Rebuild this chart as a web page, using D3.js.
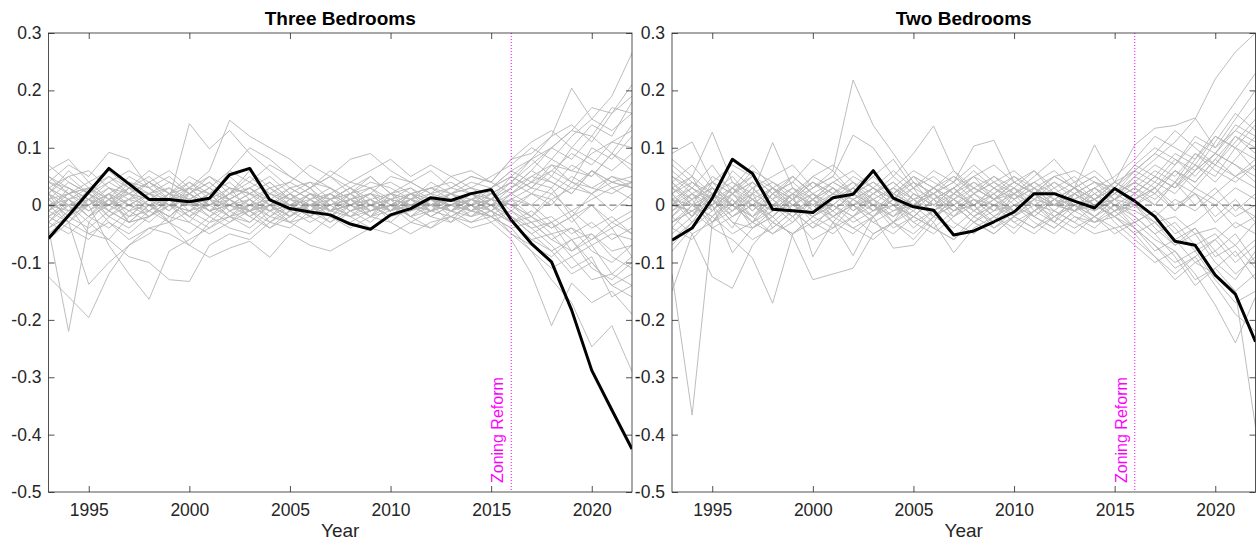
<!DOCTYPE html>
<html>
<head>
<meta charset="utf-8">
<script src="https://d3js.org/d3.v7.min.js"></script>
<style>
body { margin: 0; background: #fff; }
svg { display: block; font-family: "Liberation Sans", Arial, Helvetica, sans-serif; }
</style>
</head>
<body>
<svg id="chart" width="1257" height="551"></svg>
<script>
// years on the x axis
var years = [1993,1994,1995,1996,1997,1998,1999,2000,2001,2002,2003,2004,2005,2006,2007,
             2008,2009,2010,2011,2012,2013,2014,2015,2016,2017,2018,2019,2020,2021,2022];
var reformYear = 2016;
var reformLabel = "Zoning Reform";
var xTicks = [1995, 2000, 2005, 2010, 2015, 2020];
var yTicks = [-0.5, -0.4, -0.3, -0.2, -0.1, 0, 0.1, 0.2, 0.3];
var titles = ["Three Bedrooms", "Two Bedrooms"];
var xLabel = "Year";

// treated unit (black line)
var treated3 = [-0.058,-0.018,0.023,0.064,0.037, 0.010,0.010,0.006,0.012,0.053, 0.064,0.009,-0.006,-0.012,-0.017,
                -0.033,-0.042,-0.017,-0.006,0.013, 0.008,0.020,0.027,-0.026,-0.067, -0.099,-0.183,-0.288,-0.357,-0.425];
var treated2 = [-0.061,-0.040,0.012,0.080,0.055, -0.007,-0.010,-0.013,0.013,0.019, 0.060,0.012,-0.003,-0.009,-0.052,
                -0.045,-0.029,-0.012,0.020,0.020, 0.007,-0.005,0.029,0.007,-0.020, -0.063,-0.070,-0.122,-0.155,-0.238];

// placebo units (grey lines), three bedrooms
var placebos3 = [
  [-0.125,-0.16,-0.196,-0.12,-0.07, -0.05,-0.02,-0.03,0.01,-0.02, 0,-0.01,0.01,0,-0.02, 0.01,0,-0.01,0.01,0, -0.01,0.01,0,-0.03,-0.06, -0.08,-0.12,-0.10,-0.14,-0.16],
  [-0.04,-0.22,-0.03,-0.06,-0.02, 0.01,-0.03,0.02,-0.01,0, 0.02,-0.01,0,0.01,-0.02, 0,0.01,-0.01,0.02,0, -0.01,0.01,0,0.02,0.04, 0.03,0.07,0.05,0.09,0.06],
  [0.02,-0.03,-0.138,-0.10,-0.07, -0.04,-0.05,-0.07,-0.03,-0.02, -0.04,-0.01,-0.03,-0.02,0, -0.02,-0.01,0,-0.02,-0.01, 0,-0.01,0.01,-0.02,-0.05, -0.03,-0.08,-0.06,-0.04,-0.09],
  [0.01,-0.02,0,-0.07,-0.12, -0.164,-0.08,-0.06,-0.04,-0.02, -0.03,0,-0.02,0.01,-0.01, 0,0.02,-0.01,0,0.01, -0.02,0,0.01,0.03,0.06, 0.10,0.13,0.12,0.17,0.16],
  [-0.03,0,-0.05,-0.06,-0.09, -0.10,-0.13,-0.133,-0.07,-0.05, -0.06,-0.03,-0.04,-0.01,-0.03, 0,-0.02,0.01,0,-0.01, 0.01,0,-0.02,-0.04,-0.08, -0.13,-0.17,-0.247,-0.21,-0.29],
  [0.03,0.01,0.02,0,0.03, 0.02,0.01,0.142,0.098,0.13, 0.09,0.06,0.03,0.04,0.01, 0.02,-0.01,0,0.02,0.01, 0,0.02,0.01,0.05,0.03, 0.07,0.04,0.10,0.08,0.12],
  [-0.01,0.02,0,0.03,0.01, 0,0.02,0.03,0.06,0.148, 0.12,0.10,0.08,0.05,0.03, 0,0.02,-0.01,0.01,0, 0.02,-0.01,0.01,0.04,0.08, 0.12,0.204,0.15,0.19,0.265],
  [0.04,0.07,0.05,0.092,0.08, 0.03,0.05,0.02,0.04,0.01, 0.03,0,0.02,-0.01,0.01, 0.03,0,0.02,0.01,-0.01, 0.02,0,0.03,0.06,0.08, 0.10,0.13,0.17,0.16,0.21],
  [0.06,0.08,0.04,0.06,0.03, 0.05,0.02,0.04,0.01,0.06, 0.10,0.08,0.05,0.03,0.05, 0.08,0.09,0.06,0.04,0.02, 0.03,0.05,0.04,0.08,0.11, 0.13,0.10,0.14,0.12,0.18],
  [0,-0.03,-0.05,-0.03,-0.06, -0.04,-0.03,-0.07,-0.091,-0.075, -0.063,-0.091,-0.05,-0.07,-0.08, -0.06,-0.04,-0.05,-0.03,-0.04, -0.02,-0.03,-0.01,-0.05,-0.07, -0.09,-0.06,-0.11,-0.13,-0.10],
  [0.04,0.02,0.03,0.01,0.02, 0,0.01,0.02,-0.01,0, 0.02,0.01,-0.01,0.02,0, 0.01,-0.01,0.01,0,0.02, 0.01,0,0.02,0.04,0.02, 0.05,0.03,0.06,0.04,0.05],
  [-0.02,0.01,-0.01,0.02,0, -0.02,0.01,0,0.02,-0.01, 0,0.01,-0.02,0,0.01, -0.01,0,0.02,-0.01,0, 0.01,-0.01,0,-0.02,-0.04, -0.03,-0.06,-0.05,-0.08,-0.07],
  [0.02,0.05,0.06,0.03,0.02, 0.04,0.01,0.03,0,0.02, 0.05,0.02,0.01,0.03,-0.01, 0.02,0,0.01,0.03,0.01, 0,0.02,0.01,0.03,0.05, 0.04,0.02,0.06,0.03,0.04],
  [-0.05,-0.02,-0.04,-0.01,-0.03, 0,-0.02,0.01,-0.01,-0.03, 0,-0.02,0.01,-0.01,0, -0.02,0.01,-0.01,0,-0.02, 0,-0.01,-0.02,-0.05,-0.08, -0.11,-0.09,-0.13,-0.12,-0.14],
  [0.03,0,0.02,-0.01,0.03, 0.01,0.03,0,0.02,0.04, 0.01,0.03,0,0.02,0.01, 0.03,0.01,0.02,0,0.01, 0.03,0.02,0,0.01,-0.02, 0.01,-0.03,0,-0.04,-0.02],
  [-0.01,0.03,0.01,-0.02,0.01, 0.02,0,-0.02,0.01,0.03, -0.01,0,0.02,0,-0.02, 0.01,0.02,0,-0.01,0.01, 0,0.02,-0.01,0.02,0.05, 0.07,0.06,0.09,0.11,0.10],
  [0.05,0.03,0.01,0.04,0.02, 0.01,-0.01,0.02,0,0.01, -0.02,0.01,0.03,0.01,0.02, 0,0.01,-0.01,0.02,0, -0.01,0.01,0.02,-0.01,-0.03, -0.02,-0.05,-0.03,-0.06,-0.04],
  [-0.03,-0.05,-0.02,0.01,-0.01, -0.03,0,-0.01,-0.03,0, -0.02,-0.04,-0.01,-0.03,-0.01, -0.02,-0.04,-0.02,0,-0.02, -0.03,-0.01,-0.02,-0.04,-0.03, -0.06,-0.08,-0.05,-0.09,-0.11],
  [0.01,0.04,0.02,0.05,0.03, 0.06,0.04,0.02,0.05,0.03, 0.02,0.04,0.01,0.03,0.05, 0.02,0.04,0.03,0.01,0.04, 0.02,0.03,0.05,0.07,0.10, 0.08,0.12,0.15,0.13,0.16],
  [0,-0.01,0.01,0,-0.02, 0.01,0,-0.01,0.01,0, -0.01,0.01,0,-0.01,0.02, 0,-0.01,0.01,0,0.01, -0.01,0,0.01,0,0.02, 0.01,0.03,0.02,0.04,0.03],
  [0.02,-0.01,0,0.02,-0.02, -0.01,0.02,0.01,-0.02,0, 0.01,-0.02,0,0.02,0.01, -0.02,0,0.01,-0.02,0.01, 0.02,0,-0.01,-0.03,-0.01, -0.04,-0.02,-0.07,-0.05,-0.06],
  [-0.02,0,-0.03,0.01,0.03, 0,-0.02,0.01,0.03,0.01, -0.01,0.02,0,-0.02,0.01, 0.02,-0.01,0,0.02,-0.01, 0,0.01,-0.01,0.01,0.03, 0.02,0.05,0.03,0.02,0.04],
  [0.03,0.01,-0.02,0,0.02, -0.01,0.01,-0.02,0,0.02, 0.03,0,-0.02,0.01,0.03, 0.01,0.02,-0.01,0.01,0.02, -0.01,0.02,0,-0.02,-0.05, -0.08,-0.06,-0.10,-0.14,-0.12],
  [-0.04,-0.01,0.02,-0.02,0, 0.02,-0.01,0.03,0,-0.02, 0.01,-0.01,0.02,0,-0.01, 0,0.02,0.01,-0.02,0, 0.01,-0.02,0.01,0,-0.02, 0.02,-0.01,0.01,0.03,0.01],
  [0.01,0.02,0.04,0.01,-0.01, 0.02,0.03,0.01,-0.01,0.02, 0,0.03,0.01,0,0.02, 0.04,0.03,0.01,0.02,0.03, 0.02,0.04,0.03,0.06,0.04, 0.08,0.06,0.05,0.09,0.07],
  [0.02,0,0.01,-0.03,-0.05, -0.02,0,-0.03,-0.05,-0.03, -0.01,-0.04,-0.02,0,-0.03, -0.01,0,-0.02,-0.01,0.01, -0.01,-0.02,0,-0.03,-0.06, -0.05,-0.09,-0.07,-0.12,-0.09],
  [-0.01,0.01,-0.02,0.02,0.04, 0.03,0.01,0.04,0.02,0.01, 0.03,0.05,0.02,0.04,0.03, 0.01,0.03,0.04,0.02,0.03, 0.04,0.02,0.03,0.05,0.03, 0.06,0.04,0.03,0.05,0.04],
  [0.04,0.03,0,0.02,0, -0.01,0.02,0,0.01,-0.02, -0.01,0,0.02,-0.02,0, 0.01,-0.02,0,0.01,-0.01, 0,-0.02,-0.01,-0.03,-0.02, -0.05,-0.04,-0.06,-0.03,-0.05],
  [-0.06,-0.03,0.01,0.03,0, 0.02,0.04,0.02,0,0.03, 0.02,0,0.03,0.01,-0.01, 0.02,0.03,0,0.02,0, 0.02,0.01,0.03,0.05,0.08, 0.05,0.10,0.08,0.06,0.09],
  [0,0.02,-0.01,0.01,-0.03, -0.02,0,0.02,0.04,0.01, -0.02,0,-0.03,0,0.02, -0.01,0.01,-0.03,0,-0.01, 0.01,0,-0.02,0.01,0, 0.03,-0.02,0.02,-0.01,0.02],
  [0.05,0.02,0.03,0.05,0.02, 0.04,0.06,0.03,0.05,0.02, 0.06,0.03,0.04,0.07,0.05, 0.03,0.05,0.02,0.04,0.06, 0.03,0.05,0.04,0.02,0, -0.03,-0.01,-0.04,-0.02,-0.05],
  [-0.02,-0.04,-0.06,-0.02,-0.04, -0.01,-0.03,-0.05,-0.02,-0.04, -0.05,-0.02,-0.03,-0.05,-0.02, -0.04,-0.02,-0.03,-0.05,-0.03, -0.02,-0.04,-0.03,-0.06,-0.12, -0.21,-0.136,-0.17,-0.15,-0.19],
  [0.01,-0.02,0.03,0,0.01, -0.02,0.01,0,-0.02,0.01, 0.03,0.01,-0.01,0,0.02, 0,-0.02,0.02,0.01,-0.02, 0,0.01,-0.01,0.02,0.04, 0.06,0.09,0.07,0.11,0.13],
  [0.07,0.04,0.02,0,0.04, 0.02,0,0.03,0.02,0.05, 0.02,0.04,0.01,0.03,0, 0.02,0.05,0.02,0.03,0, 0.02,0.03,0.01,0,-0.03, -0.06,-0.04,-0.08,-0.10,-0.07],
  [-0.03,0.01,-0.02,-0.04,-0.01, 0,-0.03,-0.01,0.02,-0.01, -0.03,0,-0.02,0.01,-0.02, -0.03,-0.01,0,-0.03,-0.01, -0.02,0,-0.03,-0.01,0.02, 0,0.04,0.02,0.05,0.03],
  [0.02,0.06,0.03,0.01,0.05, 0.03,0,0.01,0.03,0, -0.01,0.02,0.04,0.02,-0.01, 0,0.02,0.05,0.04,0.02, 0.05,0.03,0.02,0.04,0.07, 0.10,0.08,0.12,0.09,0.14],
  [0,0.01,0.03,-0.01,0.01, 0.04,0.02,-0.01,0,0.02, 0.04,0.02,0,-0.02,0.01, 0.03,0,-0.02,0.01,0.03, 0.01,-0.01,0.02,0,-0.02, -0.04,-0.02,0,-0.03,-0.01],
  [-0.01,-0.03,0,0.02,-0.03, -0.02,0.01,-0.02,-0.04,-0.01, 0.01,-0.03,-0.01,0.02,-0.01, 0.01,-0.02,-0.01,0.02,0, -0.03,0.01,0,0.03,0.06, 0.04,0.02,0.06,0.04,0.03],
  [0.03,0.05,0.02,0.04,0.06, 0.04,0.02,0.05,0.03,0.06, 0.04,0.07,0.05,0.03,0.06, 0.04,0.06,0.08,0.05,0.07, 0.05,0.06,0.04,0.08,0.09, 0.12,0.14,0.11,0.16,0.19],
  [-0.04,-0.02,0.01,-0.01,-0.03, 0,-0.02,0.01,-0.01,0.01, -0.01,-0.03,0,-0.02,-0.04, -0.01,-0.03,0,-0.02,-0.04, -0.01,-0.03,-0.02,-0.01,-0.04, -0.07,-0.11,-0.09,-0.16,-0.14]
];

// placebo units (grey lines), two bedrooms
var placebos2 = [
  [-0.12,-0.366,-0.03,0.02,-0.01, 0.03,0,-0.02,0.01,0.03, 0,-0.02,0.01,0.02,-0.01, 0,0.02,-0.01,0.01,0.03, 0,-0.02,0.01,0.03,0.06, 0.04,0.09,0.07,0.12,0.10],
  [-0.15,-0.05,-0.125,-0.145,-0.07, -0.03,-0.05,-0.02,-0.04,0, -0.03,-0.01,0.01,-0.02,0, -0.03,-0.01,0,-0.02,0.01, -0.01,0,-0.02,-0.04,-0.07, -0.10,-0.08,-0.13,-0.17,-0.15],
  [-0.03,-0.01,-0.04,-0.06,-0.092, -0.171,-0.05,-0.03,-0.01,-0.04, -0.02,0,-0.03,-0.01,0.01, -0.02,0,-0.03,-0.01,0.02, 0,-0.01,0.01,0.04,0.02, 0.06,0.04,0.08,0.12,0.09],
  [0.02,-0.02,0.01,-0.03,-0.04, -0.02,-0.055,-0.13,-0.12,-0.11, -0.05,-0.03,-0.06,-0.02,-0.04, -0.01,-0.03,0,-0.02,-0.04, -0.01,-0.03,-0.02,-0.05,-0.09, -0.13,-0.10,-0.12,-0.15,-0.387],
  [0.05,0.03,0,-0.083,-0.04, -0.01,0.02,-0.09,-0.03,-0.088, -0.02,-0.075,-0.07,-0.03,-0.083, -0.04,-0.02,-0.05,-0.01,-0.03, 0,-0.02,-0.04,-0.03,-0.06, -0.08,-0.12,-0.174,-0.24,-0.16],
  [0.09,0.11,0.04,0.02,0.05, 0.03,0.01,0.04,0.02,0.05, 0.03,0.01,0.04,0.02,0, 0.03,0.01,0.04,0.02,0, 0.02,0.04,0.01,0.05,0.08, 0.11,0.15,0.22,0.267,0.30],
  [0.03,0.05,0.127,0.04,0.02, 0.109,0.03,0.01,0.04,0.02, 0.05,0.02,0,0.03,0.01, 0.04,0.02,0.05,0.03,0.01, 0.03,0,0.02,0.04,0.02, 0.06,0.04,0.08,0.05,0.07],
  [0,0.02,-0.01,0.03,0.05, 0.02,0.04,0.08,0.06,0.218, 0.139,0.09,0.04,0.02,0.05, 0.03,0.01,0.04,0.02,0, 0.03,0.01,0.04,0.02,0.05, 0.03,0.07,0.05,0.10,0.08],
  [0.04,0.01,0.03,0,0.02, 0.04,0.01,0.03,0.05,0.122, 0.10,0.05,0.09,0.138,0.06, 0.03,0.05,0.02,0.04,0.01, 0.03,0.05,0.02,0.06,0.09, 0.07,0.12,0.10,0.15,0.20],
  [-0.02,0.01,0.03,0,-0.02, 0.01,0.03,0,0.02,-0.01, 0.01,0.03,0,0.02,0.04, 0.103,0.113,0.04,0.02,0.05, 0.03,0.105,0.04,0.105,0.134, 0.139,0.152,0.10,0.13,0.11],
  [0.01,-0.03,0.02,0.05,0.01, -0.02,0.02,0,-0.03,0.01, 0.03,0,-0.02,0.01,0.03, 0,-0.03,0.02,0,-0.02, 0.01,0.03,0,-0.02,-0.05, -0.03,-0.07,-0.05,-0.09,-0.06],
  [-0.05,-0.02,0.03,0.01,-0.03, 0,0.03,-0.01,0.02,0.04, 0,-0.03,0.02,0,-0.02, 0.02,-0.01,0.03,0,-0.03, 0.02,0,-0.02,0.01,0.04, 0.02,0.06,0.09,0.07,0.05],
  [0.06,0.03,0.07,0.02,0.04, 0.01,0.05,0.02,0,0.03, 0.06,0.02,0.04,0,0.03, 0.05,0.01,0.03,0.06,0.02, 0.04,0.01,0.03,0,-0.03, -0.06,-0.04,-0.09,-0.07,-0.11],
  [-0.01,0.02,-0.03,-0.01,0.02, -0.04,-0.01,0.01,-0.03,-0.05, -0.02,0.01,-0.03,-0.05,-0.02, 0,-0.04,-0.02,0.01,-0.03, -0.05,-0.02,0,-0.03,-0.01, -0.04,-0.08,-0.06,-0.03,-0.05],
  [0.02,0.04,0.01,-0.02,0, 0.03,0.01,0.05,0.03,0, 0.02,0.04,0.01,0.03,0.05, 0.02,0.04,0.01,0.03,0, 0.02,0.04,0.03,0.06,0.04, 0.08,0.06,0.11,0.16,0.13],
  [-0.04,-0.06,-0.02,-0.05,-0.03, -0.05,-0.02,-0.06,-0.04,-0.02, -0.05,-0.03,-0.01,-0.04,-0.06, -0.03,-0.05,-0.02,-0.04,-0.01, -0.03,-0.05,-0.04,-0.07,-0.10, -0.08,-0.13,-0.11,-0.15,-0.12],
  [0.03,0,0.05,0.03,0.01, -0.01,0.02,0.04,0.01,0.03, -0.01,0.02,0.05,0.03,0, 0.02,0.05,0.03,0.01,0.04, 0.02,0,0.03,0.01,0.03, 0,0.02,-0.02,0.01,-0.03],
  [-0.08,-0.04,-0.01,0.02,-0.02, 0,-0.03,0.01,-0.01,0.02, -0.01,0,0.03,-0.02,0.01, -0.01,0.02,-0.02,0,0.02, -0.01,0.01,-0.01,0.02,0.05, 0.03,0.08,0.12,0.10,0.14],
  [0.01,0.03,0,0.06,0.03, 0.05,0.07,0.03,0.05,0.02, 0.04,0.01,0.03,0.05,0.02, 0.05,0.03,0.01,0.04,0.06, 0.03,0.05,0.02,0.04,0.07, 0.05,0.09,0.06,0.04,0.07],
  [0,-0.01,0.02,-0.02,0.01, -0.01,0,0.02,-0.02,0, 0.01,-0.01,0,0.02,-0.01, 0.01,0,-0.02,0.01,0, -0.01,0.02,0,-0.01,-0.03, -0.02,-0.05,-0.04,-0.07,-0.03],
  [0.04,0.07,0.03,0,0.03, -0.01,0.01,-0.02,0,0.03, 0.01,-0.02,0,0.03,0.01, -0.02,0.01,0.03,-0.01,0.01, 0.03,-0.01,0.01,0.03,0, 0.04,0.02,0,0.03,0.01],
  [-0.03,0,-0.02,0.01,-0.04, -0.02,0.01,-0.03,-0.05,-0.02, 0,-0.04,-0.02,0.01,-0.03, -0.05,-0.02,0,-0.03,-0.05, -0.02,-0.04,-0.01,-0.04,-0.07, -0.11,-0.09,-0.14,-0.19,-0.22],
  [0.02,-0.02,0.04,0.02,0, 0.03,-0.01,0.01,0.03,0, -0.02,0.02,0,-0.03,0.02, 0,0.03,0.01,-0.02,0.01, 0,0.02,-0.01,0.01,0.03, 0.06,0.03,0.07,0.05,0.08],
  [-0.06,-0.03,0,-0.04,0.02, 0,-0.02,0.01,0.03,-0.01, 0.02,0,-0.02,0.01,-0.01, 0.02,0,-0.01,0.02,-0.02, 0,0.01,-0.02,0,-0.02, 0.01,-0.01,0.02,0.05,0.03],
  [0.07,0.04,0.01,0.03,-0.01, 0.02,0,-0.02,0.01,0.04, 0.02,0.05,0.02,0,0.02, 0.04,0.01,0.02,0.04,0.02, 0.01,0.03,0.05,0.08,0.12, 0.10,0.08,0.13,0.18,0.23],
  [-0.02,-0.05,-0.03,0,-0.02, -0.05,-0.03,0,-0.02,-0.04, -0.06,-0.03,-0.05,-0.02,0, -0.03,-0.05,-0.02,-0.04,-0.02, -0.04,-0.02,-0.05,-0.03,-0.01, -0.05,-0.03,0,-0.04,-0.02],
  [0.01,0,-0.02,0.02,0.04, 0.01,-0.02,0.02,0,-0.02, 0.02,0.04,0.01,-0.01,0.02, 0,0.02,0.04,0.02,0, 0.02,-0.01,0.02,0.05,0.03, 0.07,0.11,0.09,0.13,0.17],
  [0.03,0.01,0.04,0.07,0.05, 0.02,0.05,0.02,0.04,0.06, 0.03,0.01,0.05,0.03,0.06, 0.02,0.04,0.06,0.03,0.05, 0.06,0.04,0.02,0,0.03, -0.01,0.02,-0.03,0,-0.02],
  [-0.01,0.01,-0.04,-0.02,0, -0.03,-0.05,-0.02,0,-0.03, -0.01,0.01,-0.02,-0.04,-0.01, 0.01,-0.02,-0.04,-0.01,0.01, -0.02,-0.03,0,-0.04,-0.08, -0.06,-0.10,-0.08,-0.12,-0.09],
  [0.05,0.02,0,0.02,0.06, 0.04,0.02,0.05,0.07,0.04, 0.01,0.03,0.06,0.04,0.02, 0.05,0.07,0.04,0.06,0.03, 0.05,0.02,0.04,0.02,0.05, 0.09,0.07,0.12,0.10,0.06],
  [0,0.03,0.01,-0.01,0.03, 0,0.02,-0.01,0.02,0.01, -0.01,0.02,0,0.02,-0.02, 0.01,-0.01,0.02,0,-0.01, 0.02,0,0.01,0,-0.04, -0.07,-0.05,-0.10,-0.13,-0.08],
  [-0.04,0,0.02,-0.01,0.01, -0.03,0,0.02,-0.01,0.02, 0,-0.02,0.02,0,0.03, -0.01,0.01,-0.02,0.03,0, -0.01,0.03,0.01,0.03,0.01, 0.04,0,0.03,-0.01,0.02],
  [0.08,0.05,0.02,0,-0.03, -0.01,0.02,0,0.03,0.01, -0.02,0.01,-0.01,0.02,0.04, 0.01,-0.02,0.01,0.03,0, 0.03,0.01,0.04,0.06,0.09, 0.13,0.10,0.07,0.11,0.15],
  [-0.02,0.02,0.04,0,-0.03, 0.02,0.04,0.01,-0.02,0.01, 0.03,0,-0.04,-0.01,0.01, -0.02,-0.04,-0.01,0.02,-0.01, -0.03,0,-0.02,-0.05,-0.03, -0.07,-0.04,-0.08,-0.05,-0.10],
  [0.02,0.05,-0.01,0.03,0.07, 0.03,0,0.03,0.06,0.02, 0.05,0.08,0.03,0.06,0.04, 0.07,0.04,0.02,0.05,0.08, 0.04,0.06,0.03,0.07,0.05, 0.03,0.06,0.09,0.14,0.12],
  [-0.03,-0.01,0.01,-0.03,-0.06, -0.04,-0.01,-0.04,-0.02,0, -0.03,-0.05,-0.02,-0.04,-0.06, -0.02,0,-0.03,-0.05,-0.02, 0,-0.03,-0.01,0,0.02, -0.01,0.03,0.01,-0.02,0],
  [0.01,-0.02,0.02,0.04,0.01, 0.03,0.05,0.02,-0.01,0.02, 0.04,0.02,0.05,0.01,0.03, 0,0.03,0.05,0.02,0.04, 0.01,0.03,0,0.02,0, 0.04,0.07,0.04,0.08,0.12],
  [0.04,0,-0.03,0.01,-0.02, 0.02,-0.01,-0.04,0,-0.02, 0.01,-0.03,0,0.03,0, -0.03,0,0.02,-0.02,-0.04, -0.01,0.01,-0.03,-0.06,-0.09, -0.12,-0.09,-0.06,-0.10,-0.07],
  [-0.07,-0.03,0,0.03,0, -0.02,0.01,0.04,0.02,0, 0.03,0.06,0.03,0.01,0.03, 0.06,0.03,0,0.02,0.05, 0.03,0.01,0.03,0.07,0.10, 0.08,0.05,0.09,0.07,0.04],
  [0,0.04,0.02,0,0.04, 0.01,-0.02,0.01,0.04,0.02, 0,0.03,0.01,-0.02,0.01, 0.03,0.01,-0.01,0.02,0, 0.01,-0.02,0.01,-0.02,-0.05, -0.09,-0.14,-0.11,-0.08,-0.13]
];

var svg = d3.select("#chart");
var plotTop = 33, plotBottom = 492;

// two panels, each with its own x range in pixels
var panels = [
  { title: titles[0], treated: treated3, placebos: placebos3, left: 48.5, right: 632 },
  { title: titles[1], treated: treated2, placebos: placebos2, left: 672, right: 1255.5 }
];

function fmtY(d) {
  return Math.abs(d) < 1e-9 ? "0" : d.toFixed(1);
}

function styleAxis(g) {
  g.select(".domain").remove();
  g.selectAll(".tick line").attr("stroke", "#262626").attr("stroke-width", 0.8);
  g.selectAll(".tick text").attr("fill", "#262626").style("font-size", "17.5px");
}

function drawPanel(p, i) {
  var x = d3.scaleLinear().domain([years[0], years[years.length - 1]]).range([p.left, p.right]);
  var y = d3.scaleLinear().domain([-0.5, 0.3]).range([plotBottom, plotTop]);
  var g = svg.append("g");

  g.append("clipPath").attr("id", "clip" + i)
    .append("rect")
    .attr("x", p.left).attr("y", plotTop)
    .attr("width", p.right - p.left).attr("height", plotBottom - plotTop);

  var line = d3.line()
    .x(function(d, k) { return x(years[k]); })
    .y(function(d) { return y(d); });

  var plot = g.append("g").attr("clip-path", "url(#clip" + i + ")");

  plot.selectAll("path.placebo")
    .data(p.placebos)
    .enter()
    .append("path")
    .attr("class", "placebo")
    .attr("d", line)
    .attr("fill", "none")
    .attr("stroke", "#b5b5b5")
    .attr("stroke-width", 0.9);

  // zero reference line
  plot.append("line")
    .attr("x1", x(years[0])).attr("x2", x(years[years.length - 1]))
    .attr("y1", y(0)).attr("y2", y(0))
    .attr("stroke", "#7f7f7f").attr("stroke-width", 1.3)
    .attr("stroke-dasharray", "7,4");

  plot.append("path")
    .datum(p.treated)
    .attr("d", line)
    .attr("fill", "none")
    .attr("stroke", "#000")
    .attr("stroke-width", 3)
    .attr("stroke-linejoin", "round");

  // reform marker
  plot.append("line")
    .attr("x1", x(reformYear)).attr("x2", x(reformYear))
    .attr("y1", plotTop).attr("y2", plotBottom)
    .attr("stroke", "#ff00ff").attr("stroke-width", 1)
    .attr("stroke-dasharray", "1,2");

  g.append("text")
    .attr("transform", "translate(" + (x(reformYear) - 8) + "," + (plotBottom - 9) + ") rotate(-90)")
    .attr("fill", "#ff00ff")
    .style("font-size", "16px")
    .text(reformLabel);

  // axes, ticks pointing inward on all four sides
  g.append("g").attr("transform", "translate(" + p.left + ",0)")
    .call(d3.axisLeft(y).tickValues(yTicks).tickFormat(fmtY).tickSize(-6).tickPadding(7))
    .call(styleAxis);
  g.append("g").attr("transform", "translate(" + p.right + ",0)")
    .call(d3.axisRight(y).tickValues(yTicks).tickFormat("").tickSize(-6))
    .call(styleAxis);
  g.append("g").attr("transform", "translate(0," + plotBottom + ")")
    .call(d3.axisBottom(x).tickValues(xTicks).tickFormat(d3.format("d")).tickSize(-6).tickPadding(12))
    .call(styleAxis);
  g.append("g").attr("transform", "translate(0," + plotTop + ")")
    .call(d3.axisTop(x).tickValues(xTicks).tickFormat("").tickSize(-6))
    .call(styleAxis);

  g.append("rect")
    .attr("x", p.left).attr("y", plotTop)
    .attr("width", p.right - p.left).attr("height", plotBottom - plotTop)
    .attr("fill", "none")
    .attr("stroke", "#262626")
    .attr("stroke-width", 0.8);

  g.append("text")
    .attr("x", (p.left + p.right) / 2).attr("y", 25)
    .attr("text-anchor", "middle")
    .style("font-size", "19px").style("font-weight", "bold")
    .text(p.title);

  g.append("text")
    .attr("x", (p.left + p.right) / 2).attr("y", 537)
    .attr("text-anchor", "middle")
    .attr("fill", "#262626")
    .style("font-size", "19px")
    .text(xLabel);
}

panels.forEach(drawPanel);
</script>
</body>
</html>
